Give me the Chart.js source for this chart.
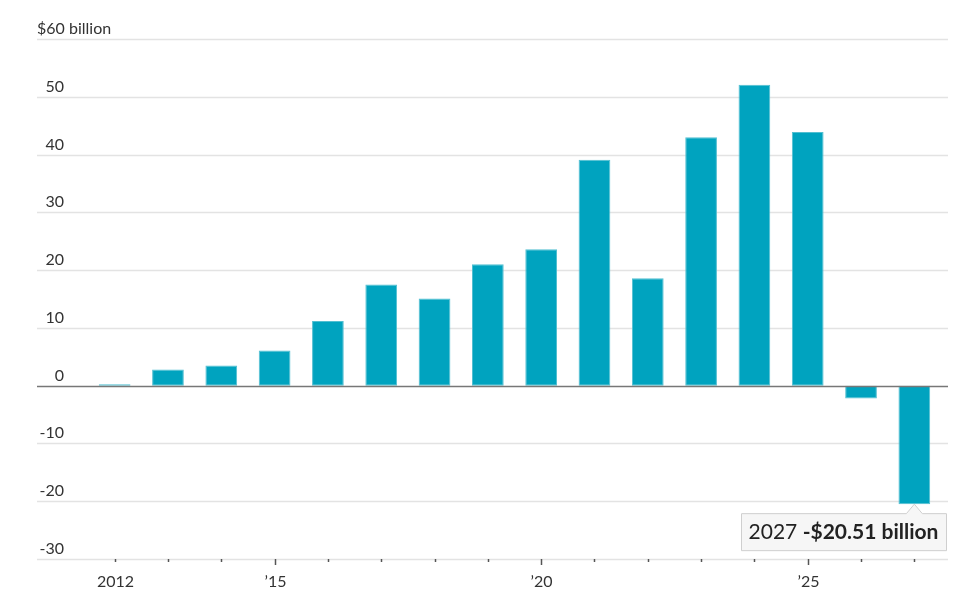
<!DOCTYPE html>
<html>
<head>
<meta charset="utf-8">
<script src="https://cdn.jsdelivr.net/npm/chart.js@4.4.1/dist/chart.umd.min.js"></script>
<style>
  html, body { margin: 0; padding: 0; background: #fff; }
  #wrap { width: 960px; height: 613px; }
</style>
</head>
<body>
<div id="wrap"><canvas id="myChart" width="960" height="613"></canvas></div>
<script>
// years and values, $ billions
const years = ['2012', '2013', '2014', '2015', '2016', '2017', '2018', '2019',
               '2020', '2021', '2022', '2023', '2024', '2025', '2026', '2027'];
const values = [0.25, 2.8, 3.5, 6.1, 11.2, 17.5, 15.1, 21.0,
                23.6, 39.1, 18.6, 43.0, 52.1, 43.9, -2.2, -20.51];
const yTicks = [60, 50, 40, 30, 20, 10, 0, -10, -20, -30];
const xLabels = {'2012': '2012', '2015': '\u201915', '2020': '\u201920', '2025': '\u201925'};
const callout = { year: '2027', text: '2027 ', bold: '-$20.51 billion' };

const FONT = 'Lato, "Noto Sans", sans-serif';
const TEXT = '#333';

/* ======================================
        AXES, GRID, CALLOUT
========================================*/
const decor = {
  id: 'decor',
  beforeDatasetsDraw(chart) {
    const ctx = chart.ctx;
    const y = chart.scales.y;
    const x = chart.scales.x;
    ctx.save();
    // horizontal grid, wider than the plot area
    yTicks.forEach(v => {
      if (v === 0) return;
      const py = Math.round(y.getPixelForValue(v)) + 0.5;
      ctx.strokeStyle = '#e3e3e3';
      ctx.lineWidth = 1.5;
      ctx.beginPath();
      ctx.moveTo(37, py);
      ctx.lineTo(948, py);
      ctx.stroke();
    });
    // y labels sit above their lines
    ctx.fillStyle = TEXT;
    ctx.font = '16px ' + FONT;
    ctx.textBaseline = 'alphabetic';
    yTicks.forEach(v => {
      const py = y.getPixelForValue(v) - 5;
      if (v === 60) {
        ctx.textAlign = 'left';
        ctx.fillText('$60 billion', 37, py);
      } else {
        ctx.textAlign = 'right';
        ctx.fillText(String(v), 64, py);
      }
    });
    // x ticks and labels
    const base = y.getPixelForValue(-30);
    ctx.strokeStyle = '#555';
    ctx.lineWidth = 1.5;
    ctx.textAlign = 'center';
    years.forEach((yr, i) => {
      const px = Math.round(x.getPixelForValue(i)) + 0.5;
      const major = yr === '2015' || yr === '2020' || yr === '2025';
      ctx.beginPath();
      ctx.moveTo(px, base);
      ctx.lineTo(px, base + (major ? 6 : 3));
      ctx.stroke();
      if (xLabels[yr]) ctx.fillText(xLabels[yr], px, 587);
    });
    ctx.restore();
  },
  afterDatasetsDraw(chart) {
    const ctx = chart.ctx;
    const y = chart.scales.y;
    const x = chart.scales.x;
    ctx.save();
    // zero line
    const py0 = Math.round(y.getPixelForValue(0)) + 0.5;
    ctx.strokeStyle = '#777';
    ctx.lineWidth = 1.5;
    ctx.beginPath();
    ctx.moveTo(37, py0);
    ctx.lineTo(948, py0);
    ctx.stroke();

    // callout box under the 2027 bar
    const idx = years.indexOf(callout.year);
    const bx = x.getPixelForValue(idx);
    const by = y.getPixelForValue(values[idx]);
    const left = 741, right = 946, top = by + 9, bottom = top + 37;
    ctx.fillStyle = '#f6f6f6';
    ctx.strokeStyle = '#cfcfcf';
    ctx.lineWidth = 1;
    ctx.beginPath();
    ctx.moveTo(left + 0.5, top + 0.5);
    ctx.lineTo(bx - 8, top + 0.5);
    ctx.lineTo(bx, by);
    ctx.lineTo(bx + 8, top + 0.5);
    ctx.lineTo(right + 0.5, top + 0.5);
    ctx.lineTo(right + 0.5, bottom + 0.5);
    ctx.lineTo(left + 0.5, bottom + 0.5);
    ctx.closePath();
    ctx.fill();
    ctx.stroke();

    ctx.fillStyle = '#222';
    ctx.textAlign = 'left';
    ctx.textBaseline = 'alphabetic';
    ctx.font = '21px ' + FONT;
    const w1 = ctx.measureText(callout.text).width;
    ctx.font = 'bold 21px ' + FONT;
    const w2 = ctx.measureText(callout.bold).width;
    const tx = (left + right) / 2 - (w1 + w2) / 2;
    ctx.font = '21px ' + FONT;
    ctx.fillText(callout.text, tx, top + 26);
    ctx.font = 'bold 21px ' + FONT;
    ctx.fillText(callout.bold, tx + w1, top + 26);
    ctx.restore();
  }
};

let myChart = document.getElementById('myChart').getContext('2d');
let barChart = new Chart(myChart, {
  type: 'bar',
  data: {
    labels: years,
    datasets: [{
      label: 'Value',
      data: values,
      backgroundColor: '#00a3bf',
      borderColor: '#52bfd1',
      borderWidth: 1,
      borderSkipped: false,
      categoryPercentage: 1,
      barPercentage: 0.595
    }]
  },
  options: {
    responsive: false,
    animation: false,
    layout: { padding: { left: 88, right: 19, top: 39, bottom: 54 } },
    scales: {
      x: { display: false },
      y: { display: false, min: -30, max: 60 }
    },
    plugins: {
      legend: { display: false },
      tooltip: { enabled: false }
    }
  },
  plugins: [decor]
});
</script>
</body>
</html>
